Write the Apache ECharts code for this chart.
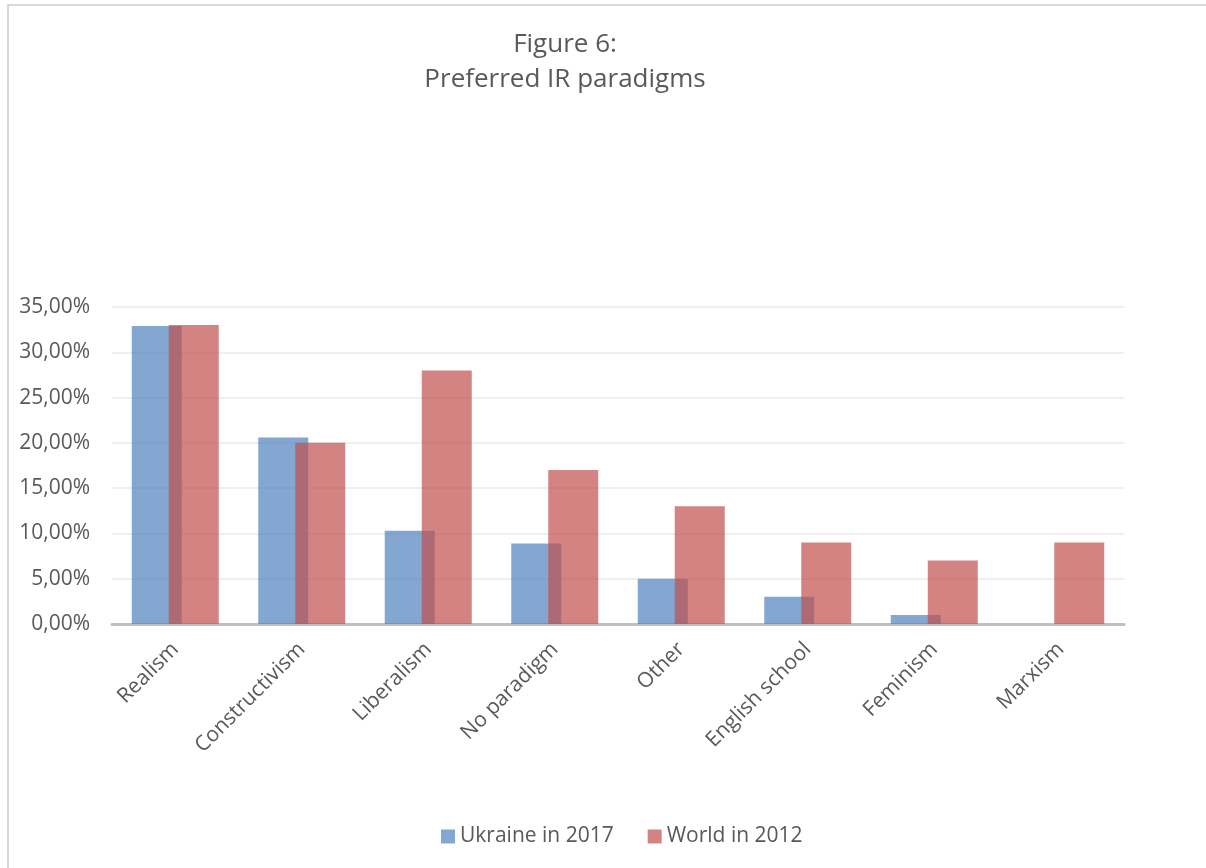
<!DOCTYPE html>
<html>
<head>
<meta charset="utf-8">
<script src="https://cdn.jsdelivr.net/npm/echarts@6/dist/echarts.min.js"></script>
<style>
html,body{margin:0;padding:0;background:#fff;}
#chart{width:1206px;height:868px;}
</style>
</head>
<body>
<div id="chart"></div>
<script>
const categories = ["Realism","Constructivism","Liberalism","No paradigm","Other","English school","Feminism","Marxism"];
const ukraine2017 = [32.9, 20.6, 10.3, 8.9, 5.0, 3.0, 1.0, 0];
const world2012 = [33, 20, 28, 17, 13, 9, 7, 9];
const seriesNames = ["Ukraine in 2017","World in 2012"];
const titleLines = ["Figure 6:","Preferred IR paradigms"];

const chart = echarts.init(document.getElementById('chart'));
const fontFam = '"Open Sans", "Liberation Sans", sans-serif';
chart.setOption({
  animation:false,
  backgroundColor:'#fff',
  graphic:[{
    type:'rect', silent:true, z:-10,
    shape:{x:8, y:5, width:1400, height:1000},
    style:{fill:'#fff', stroke:'#d9d9d9', lineWidth:2}
  }],
  title:{
    text:titleLines.join('\n'),
    left:560, top:22, textAlign:'center',
    textStyle:{fontFamily:fontFam, fontSize:26, fontWeight:'normal', color:'#595959', lineHeight:35}
  },
  legend:{
    bottom:16, left:436,
    itemWidth:14, itemHeight:14, itemGap:34,
    icon:'rect',
    textStyle:{fontFamily:fontFam, fontSize:21, color:'#595959'},
    data:seriesNames
  },
  grid:{left:112, right:82, top:307, bottom:244},
  xAxis:{
    type:'category', data:categories,
    axisLine:{lineStyle:{color:'#bfbfbf', width:3}},
    axisTick:{show:false},
    axisLabel:{rotate:45, margin:22, fontFamily:fontFam, fontSize:21, color:'#595959', interval:0}
  },
  yAxis:{
    type:'value', min:0, max:35, interval:5,
    axisLine:{show:false}, axisTick:{show:false},
    splitLine:{lineStyle:{color:'#efefef', width:2}},
    axisLabel:{fontFamily:fontFam, fontSize:21, color:'#595959', margin:22,
      formatter:v=>v.toFixed(2).replace('.',',')+'%'}
  },
  series:[
    {name:seriesNames[0], type:'bar', data:ukraine2017, barWidth:50, barGap:'-26%',
     itemStyle:{color:'#4F81BD', opacity:0.7}},
    {name:seriesNames[1], type:'bar', data:world2012, barWidth:50, barGap:'-26%',
     itemStyle:{color:'#C0504D', opacity:0.7}}
  ]
});
</script>
</body>
</html>
